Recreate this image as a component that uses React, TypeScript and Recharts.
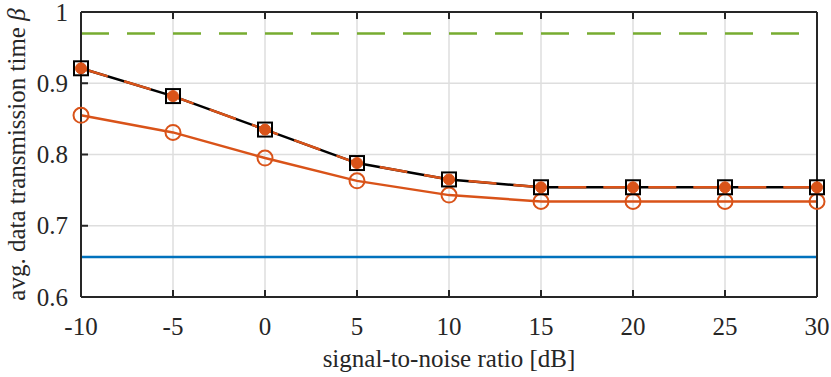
import React from 'react';
import { LineChart, Line, XAxis, YAxis, CartesianGrid, ReferenceLine } from 'recharts';

const snr = [-10, -5, 0, 5, 10, 15, 20, 25, 30];
const simSquares = [0.921, 0.882, 0.835, 0.788, 0.765, 0.754, 0.754, 0.754, 0.754];
const simDots = [0.921, 0.882, 0.835, 0.788, 0.765, 0.754, 0.754, 0.754, 0.754];
const simCircles = [0.855, 0.831, 0.795, 0.763, 0.743, 0.734, 0.734, 0.734, 0.734];
const upperBound = 0.97;
const lowerBound = 0.656;
const xTicks = [-10, -5, 0, 5, 10, 15, 20, 25, 30];
const yTicks = [0.6, 0.7, 0.8, 0.9, 1];
const yTickLabels = ['0.6', '0.7', '0.8', '0.9', '1'];
const xLabel = 'signal-to-noise ratio [dB]';
const yLabel = 'avg. data transmission time ';
const yLabelSymbol = 'β';

const data = snr.map((s, i) => ({ snr: s, sq: simSquares[i], dt: simDots[i], ci: simCircles[i] }));

const FONT = '"Liberation Serif", "Times New Roman", serif';
const FS = 25;
const AX = '#262626';
const ORANGE = '#D95319';
const BLUE = '#0072BD';
const GREEN = '#77AC30';
const TL = 7;
const textStyle: React.CSSProperties = { fontFamily: FONT, fontSize: FS, fill: AX };

const BottomTick = (p: any) => (
  <g>
    <line x1={p.x} y1={p.y} x2={p.x} y2={p.y - TL} stroke={AX} strokeWidth={2} />
    <text x={p.x} y={p.y + 38} textAnchor="middle" style={textStyle}>
      {p.payload.value}
    </text>
  </g>
);
const TopTick = (p: any) => (
  <line x1={p.x} y1={p.y} x2={p.x} y2={p.y + TL} stroke={AX} strokeWidth={2} />
);
const LeftTick = (p: any) => {
  const idx = yTicks.indexOf(p.payload.value);
  return (
    <g>
      <line x1={p.x} y1={p.y} x2={p.x + TL} y2={p.y} stroke={AX} strokeWidth={2} />
      <text x={p.x - 13} y={p.y} dy="0.34em" textAnchor="end" style={textStyle}>
        {idx >= 0 ? yTickLabels[idx] : p.payload.value}
      </text>
    </g>
  );
};
const RightTick = (p: any) => (
  <line x1={p.x} y1={p.y} x2={p.x - TL} y2={p.y} stroke={AX} strokeWidth={2} />
);

const SquareDot = (p: any) => (
  <rect key={'s' + p.index} x={p.cx - 7} y={p.cy - 7} width={14} height={14} fill="none" stroke="#000" strokeWidth={2} />
);
const FilledDot = (p: any) => (
  <circle key={'f' + p.index} cx={p.cx} cy={p.cy} r={5.5} fill={ORANGE} stroke={ORANGE} strokeWidth={1} />
);
const HollowDot = (p: any) => (
  <circle key={'h' + p.index} cx={p.cx} cy={p.cy} r={7.5} fill="none" stroke={ORANGE} strokeWidth={2} />
);

export default function App() {
  return (
    <div style={{ position: 'absolute', left: 0, top: 0, width: 831, height: 377, background: '#fff' }}>
      <LineChart width={831} height={377} data={data} margin={{ top: 0, right: 0, bottom: 0, left: 0 }}>
        <CartesianGrid stroke="#dedede" strokeWidth={1.5} />
        <XAxis
          dataKey="snr"
          type="number"
          domain={[-10, 30]}
          ticks={xTicks}
          interval={0}
          height={80}
          tickSize={0}
          tickMargin={0}
          axisLine={{ stroke: AX, strokeWidth: 2 }}
          tickLine={false}
          tick={BottomTick}
          label={{
            content: (lp: any) => {
              const vb = lp.viewBox || { x: 81, width: 736, y: 297 };
              return (
                <text x={vb.x + vb.width / 2} y={367} textAnchor="middle" style={textStyle}>
                  {xLabel}
                </text>
              );
            },
          }}
        />
        <XAxis
          xAxisId="top"
          orientation="top"
          dataKey="snr"
          type="number"
          domain={[-10, 30]}
          ticks={xTicks}
          interval={0}
          height={12}
          tickSize={0}
          tickMargin={0}
          axisLine={{ stroke: AX, strokeWidth: 2 }}
          tickLine={false}
          tick={TopTick}
        />
        <YAxis
          type="number"
          domain={[0.6, 1]}
          ticks={yTicks}
          interval={0}
          width={81}
          tickSize={0}
          tickMargin={0}
          axisLine={{ stroke: AX, strokeWidth: 2 }}
          tickLine={false}
          tick={LeftTick}
          label={{
            content: () => (
              <text
                x={25}
                y={154.5}
                transform="rotate(-90, 25, 154.5)"
                textAnchor="middle"
                style={textStyle}
              >
                {yLabel}
                <tspan fontStyle="italic">{yLabelSymbol}</tspan>
              </text>
            ),
          }}
        />
        <YAxis
          yAxisId="right"
          orientation="right"
          type="number"
          domain={[0.6, 1]}
          ticks={yTicks}
          interval={0}
          width={14}
          tickSize={0}
          tickMargin={0}
          axisLine={{ stroke: AX, strokeWidth: 2 }}
          tickLine={false}
          tick={RightTick}
        />
        <ReferenceLine y={upperBound} stroke={GREEN} strokeWidth={2.5} strokeDasharray="28 18" />
        <ReferenceLine y={lowerBound} stroke={BLUE} strokeWidth={2.5} />
        <Line dataKey="ci" stroke={ORANGE} strokeWidth={2.5} dot={HollowDot} isAnimationActive={false} />
        <Line dataKey="sq" stroke="#000" strokeWidth={2.5} dot={SquareDot} isAnimationActive={false} />
        <Line dataKey="dt" stroke={ORANGE} strokeWidth={2.5} strokeDasharray="28 17" dot={FilledDot} isAnimationActive={false} />
      </LineChart>
    </div>
  );
}
